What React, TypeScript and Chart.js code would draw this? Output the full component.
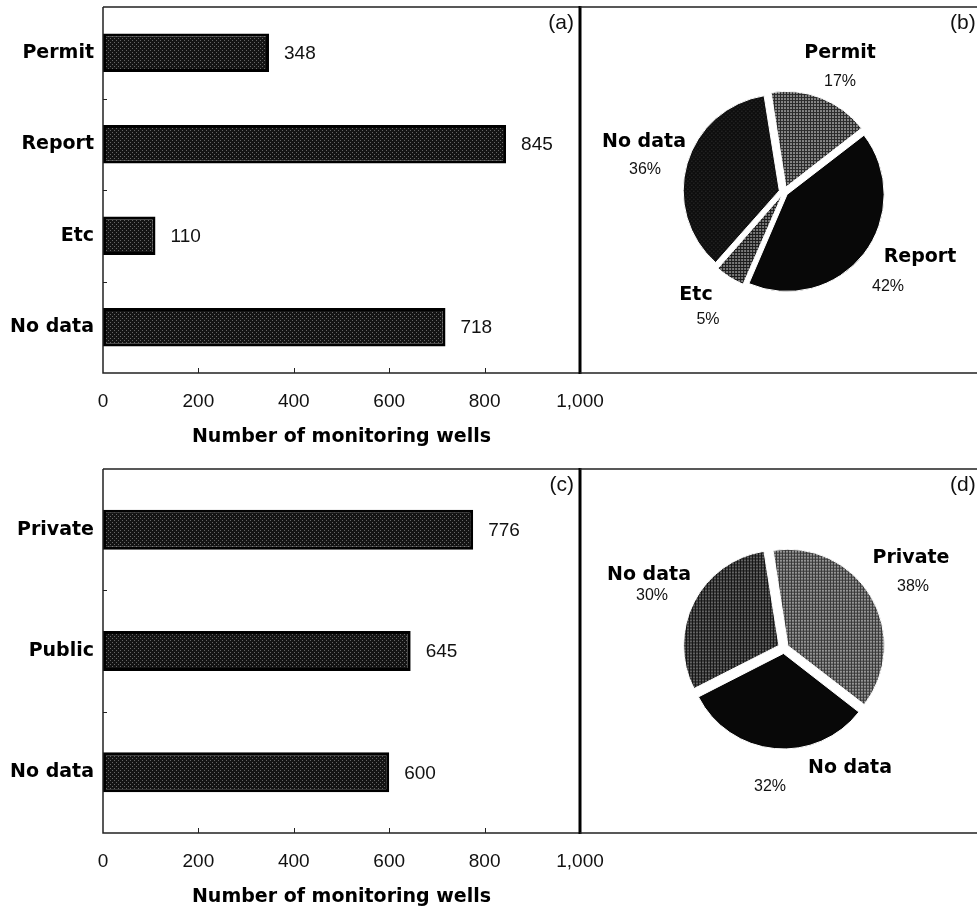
import React, { useEffect, useRef } from 'react';
import { Chart, registerables } from 'chart.js';

Chart.register(...registerables);

// ---- data ----
const sourceCategories = ['Permit', 'Report', 'Etc', 'No data'];
const sourceWells = [348, 845, 110, 718];

const ownerCategories = ['Private', 'Public', 'No data'];
const ownerWells = [776, 645, 600];

const sourceShareLabels = ['Permit', 'Report', 'Etc', 'No data'];
const sourceSharePct = [17, 42, 5, 36];

const ownerShareLabels = ['Private', 'No data', 'No data'];
const ownerSharePct = [38, 32, 30];

const wellTicks = [0, 200, 400, 600, 800, 1000];
const axisTitle = 'Number of monitoring wells';

// ---- styling ----
const BOLD = '"DejaVu Sans", "Liberation Sans", sans-serif';
const PLAIN = '"Liberation Sans", Arial, sans-serif';

type Tex = { bg: string; fg: string; size: number; kind: 'grid' | 'dots' | 'solid' };

function makeTexture(t: Tex): CanvasPattern | string {
  if (t.kind === 'solid') return t.bg;
  const c = document.createElement('canvas');
  c.width = t.size;
  c.height = t.size;
  const g = c.getContext('2d')!;
  g.fillStyle = t.bg;
  g.fillRect(0, 0, t.size, t.size);
  g.fillStyle = t.fg;
  if (t.kind === 'grid') {
    g.fillRect(0, 0, t.size, 1);
    g.fillRect(0, 0, 1, t.size);
  } else {
    g.fillRect(0, 0, 1, 1);
    g.fillRect(2, 2, 1, 1);
  }
  return g.createPattern(c, 'repeat')!;
}

const barTexture: Tex = { bg: '#141414', fg: '#666666', size: 4, kind: 'dots' };

const sourceShareTex: Tex[] = [
  { bg: '#868686', fg: '#2a2a2a', size: 3, kind: 'grid' },
  { bg: '#080808', fg: '#080808', size: 3, kind: 'solid' },
  { bg: '#7a7a7a', fg: '#1c1c1c', size: 3, kind: 'grid' },
  { bg: '#0e0e0e', fg: '#3c3c3c', size: 4, kind: 'dots' },
];
const ownerShareTex: Tex[] = [
  { bg: '#969696', fg: '#363636', size: 3, kind: 'grid' },
  { bg: '#080808', fg: '#080808', size: 3, kind: 'solid' },
  { bg: '#646464', fg: '#141414', size: 3, kind: 'grid' },
];

// label anchors relative to the pie centre: [nameDx, nameDy, pctDx, pctDy]
const sourceShareAnchors = [
  [56, -139, 56, -110],
  [136, 65, 104, 95],
  [-88, 103, -76, 128],
  [-140, -50, -139, -22],
];
const ownerShareAnchors = [
  [127, -90, 129, -61],
  [66, 120, -14, 139],
  [-135, -73, -132, -52],
];

// ---- plugins ----
const barFrame = {
  id: 'barFrame',
  afterDatasetsDraw(chart: any) {
    const { ctx } = chart;
    ctx.save();
    // value labels at the end of each bar
    const meta = chart.getDatasetMeta(0);
    const vals = chart.data.datasets[0].data;
    ctx.font = `19px ${PLAIN}`;
    ctx.fillStyle = '#111';
    ctx.textAlign = 'left';
    ctx.textBaseline = 'middle';
    meta.data.forEach((bar: any, i: number) => {
      ctx.fillText(String(vals[i]), bar.x + 15, bar.y + 1);
    });
    ctx.restore();
  },
  afterDraw(chart: any, _args: any, opts: any) {
    const { ctx, chartArea: a, scales } = chart;
    ctx.save();
    ctx.strokeStyle = '#222';
    ctx.lineWidth = 1.5;
    ctx.beginPath();
    ctx.moveTo(a.left, a.top);
    ctx.lineTo(a.right, a.top);
    ctx.moveTo(a.left, a.top);
    ctx.lineTo(a.left, a.bottom);
    ctx.lineTo(a.right, a.bottom);
    ctx.stroke();
    // small inner tick marks
    ctx.lineWidth = 1;
    ctx.beginPath();
    wellTicks.slice(1, -1).forEach((v) => {
      const px = Math.round(scales.x.getPixelForValue(v)) + 0.5;
      ctx.moveTo(px, a.bottom);
      ctx.lineTo(px, a.bottom - 5);
    });
    const n = chart.data.labels.length;
    for (let i = 0; i < n - 1; i++) {
      const py = Math.round((scales.y.getPixelForValue(i) + scales.y.getPixelForValue(i + 1)) / 2) + 0.5;
      ctx.moveTo(a.left, py);
      ctx.lineTo(a.left + 4, py);
    }
    ctx.stroke();
    // divider on the right
    ctx.strokeStyle = '#000';
    ctx.lineWidth = 3;
    ctx.beginPath();
    ctx.moveTo(a.right, a.top - 1);
    ctx.lineTo(a.right, a.bottom + 1);
    ctx.stroke();
    // panel tag
    ctx.font = `21px ${PLAIN}`;
    ctx.fillStyle = '#111';
    ctx.textAlign = 'right';
    ctx.textBaseline = 'middle';
    ctx.fillText(opts.tag, a.right - 6, a.top + 16);
    ctx.restore();
  },
};

const pieFrame = {
  id: 'pieFrame',
  afterDraw(chart: any, _args: any, opts: any) {
    const { ctx, width, height } = chart;
    ctx.save();
    ctx.strokeStyle = '#222';
    ctx.lineWidth = 1.5;
    ctx.beginPath();
    ctx.moveTo(0, 1);
    ctx.lineTo(width, 1);
    ctx.moveTo(0, height - 1);
    ctx.lineTo(width, height - 1);
    ctx.stroke();
    ctx.font = `21px ${PLAIN}`;
    ctx.fillStyle = '#111';
    ctx.textAlign = 'left';
    ctx.textBaseline = 'middle';
    ctx.fillText(opts.tag, 370, 17);

    const meta = chart.getDatasetMeta(0);
    const cx = meta.data[0].x;
    const cy = meta.data[0].y;
    const vals = chart.data.datasets[0].data;
    const anchors = opts.anchors;
    ctx.textAlign = 'center';
    chart.data.labels.forEach((name: string, i: number) => {
      const [nx, ny, px, py] = anchors[i];
      ctx.font = `bold 19px ${BOLD}`;
      ctx.fillStyle = '#000';
      ctx.fillText(name, cx + nx, cy + ny);
      ctx.font = `16px ${PLAIN}`;
      ctx.fillStyle = '#111';
      ctx.fillText(`${vals[i]}%`, cx + px, cy + py);
    });
    ctx.restore();
  },
};

// ---- panels ----
type BarProps = {
  cats: string[];
  vals: number[];
  tag: string;
  top: number;
  height: number;
  plotBottom: number;
  titleY: number;
  barPct: number;
};

function BarPanel({ cats, vals, tag, top, height, plotBottom, titleY, barPct }: BarProps) {
  const ref = useRef<HTMLCanvasElement>(null);
  useEffect(() => {
    const titleSize = 19;
    const chart = new Chart(ref.current!, {
      type: 'bar',
      data: {
        labels: cats,
        datasets: [
          {
            data: vals,
            backgroundColor: makeTexture(barTexture) as any,
            borderColor: '#000',
            borderWidth: 3,
            borderSkipped: false,
            barPercentage: barPct,
            categoryPercentage: 1,
          },
        ],
      },
      options: {
        indexAxis: 'y',
        animation: false,
        responsive: false,
        maintainAspectRatio: false,
        layout: { padding: { top: 7, right: 40, left: 0, bottom: 0 } },
        plugins: {
          legend: { display: false },
          tooltip: { enabled: false },
          barFrame: { tag },
        } as any,
        scales: {
          x: {
            type: 'linear',
            min: 0,
            max: 1000,
            afterBuildTicks: (s: any) => {
              s.ticks = wellTicks.map((v) => ({ value: v }));
            },
            ticks: {
              callback: (v: any) => Number(v).toLocaleString('en-US'),
              font: { family: PLAIN, size: 19 },
              color: '#111',
              padding: 17,
              maxRotation: 0,
              autoSkip: false,
            },
            grid: { display: false, drawTicks: false },
            border: { display: false },
            title: {
              display: true,
              text: axisTitle,
              font: { family: BOLD, size: titleSize, weight: 'bold' },
              color: '#000',
              padding: { top: 0, bottom: height - titleY - titleSize * 0.6 },
            },
            afterFit: (s: any) => {
              s.height = height - plotBottom;
              s.paddingLeft = 0;
              s.paddingRight = 0;
            },
          },
          y: {
            type: 'category',
            grid: { display: false, drawTicks: false },
            border: { display: false },
            ticks: {
              font: { family: BOLD, size: 19, weight: 'bold' },
              color: '#000',
              padding: 9,
            },
            afterFit: (s: any) => {
              s.width = 103;
              s.paddingTop = 0;
              s.paddingBottom = 0;
            },
          },
        },
      } as any,
      plugins: [barFrame],
    });
    return () => chart.destroy();
  }, []);
  return (
    <canvas
      ref={ref}
      width={620}
      height={height}
      style={{ position: 'absolute', left: 0, top, width: 620, height }}
    />
  );
}

type PieProps = {
  labels: string[];
  pct: number[];
  tex: Tex[];
  anchors: number[][];
  tag: string;
  top: number;
  height: number;
  padTop: number;
  padBottom: number;
};

function PiePanel({ labels, pct, tex, anchors, tag, top, height, padTop, padBottom }: PieProps) {
  const ref = useRef<HTMLCanvasElement>(null);
  useEffect(() => {
    const total = pct.reduce((s, v) => s + v, 0);
    const gap = 6;
    const chart = new Chart(ref.current!, {
      type: 'pie',
      data: {
        labels,
        datasets: [
          {
            data: pct,
            backgroundColor: tex.map(makeTexture) as any,
            borderColor: '#fff',
            borderWidth: 1,
            // explode every slice by about the same distance
            offset: (c: any) => {
              const circ = (c.dataset.data[c.dataIndex] / total) * Math.PI * 2;
              const fix = 1 - Math.sin(Math.min(Math.PI, circ));
              return (4 * gap) / (1 + fix);
            },
          } as any,
        ],
      },
      options: {
        animation: false,
        responsive: false,
        maintainAspectRatio: false,
        radius: 95,
        rotation: -9,
        layout: { padding: { left: 11, right: 0, top: padTop, bottom: padBottom } },
        plugins: {
          legend: { display: false },
          tooltip: { enabled: false },
          pieFrame: { tag, anchors },
        } as any,
      } as any,
      plugins: [pieFrame],
    });
    return () => chart.destroy();
  }, []);
  return (
    <canvas
      ref={ref}
      width={397}
      height={height}
      style={{ position: 'absolute', left: 580, top, width: 397, height }}
    />
  );
}

export default function App() {
  return (
    <div
      style={{
        position: 'fixed',
        left: 0,
        top: 0,
        width: 977,
        height: 910,
        overflow: 'hidden',
        background: '#fff',
      }}
    >
      <BarPanel
        cats={sourceCategories}
        vals={sourceWells}
        tag="(a)"
        top={0}
        height={455}
        plotBottom={373}
        titleY={437}
        barPct={0.42}
      />
      <BarPanel
        cats={ownerCategories}
        vals={ownerWells}
        tag="(c)"
        top={462}
        height={448}
        plotBottom={371}
        titleY={435}
        barPct={0.33}
      />
      <PiePanel
        labels={sourceShareLabels}
        pct={sourceSharePct}
        tex={sourceShareTex}
        anchors={sourceShareAnchors}
        tag="(b)"
        top={6}
        height={368}
        padTop={4}
        padBottom={0}
      />
      <PiePanel
        labels={ownerShareLabels}
        pct={ownerSharePct}
        tex={ownerShareTex}
        anchors={ownerShareAnchors}
        tag="(d)"
        top={468}
        height={366}
        padTop={0}
        padBottom={6}
      />
    </div>
  );
}
